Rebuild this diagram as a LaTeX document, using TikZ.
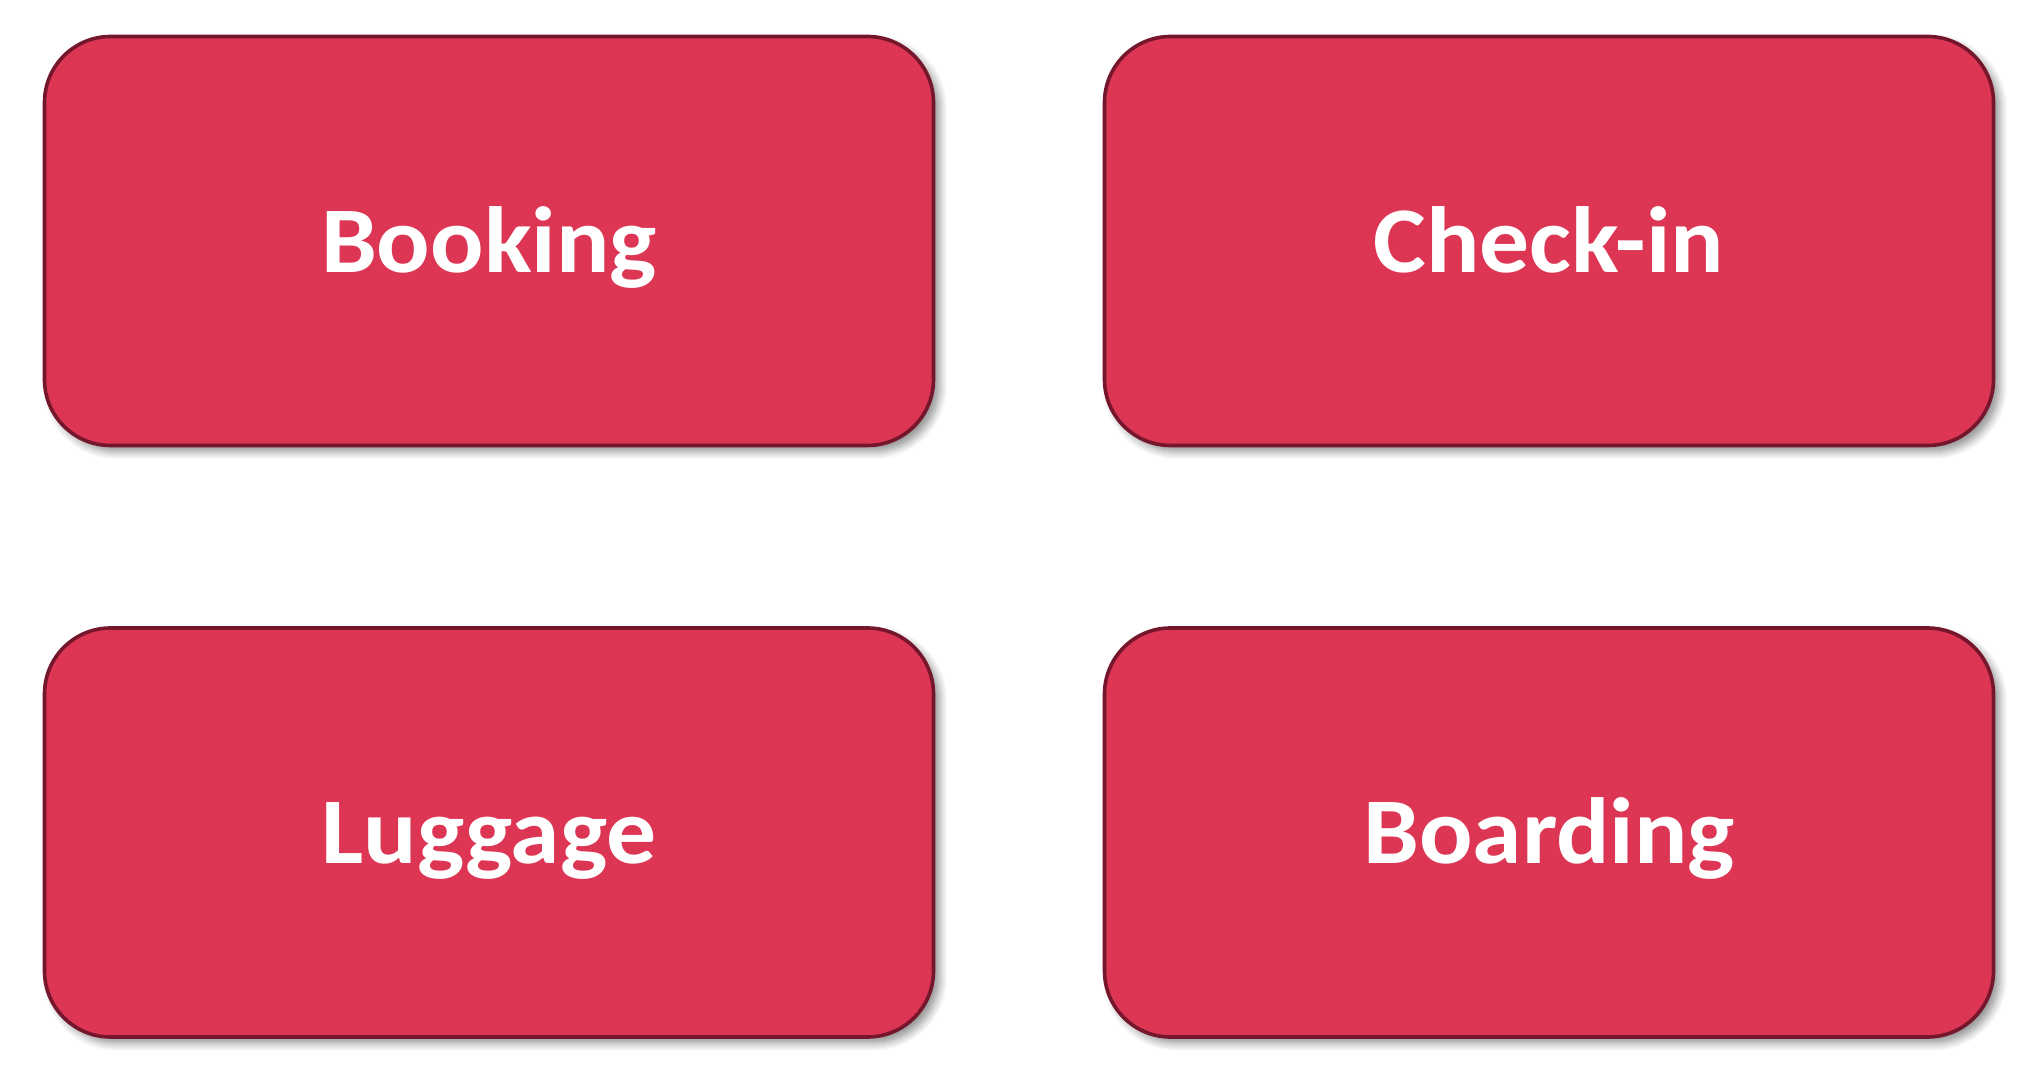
\documentclass[tikz,border=0pt]{standalone}
\usepackage{fontspec}
\setmainfont{Carlito}[FakeStretch=1.06]
\usetikzlibrary{shadows.blur}
\definecolor{boxfill}{RGB}{220,54,84}
\definecolor{boxline}{RGB}{118,22,44}
\tikzset{
  stage/.style={
    rectangle, rounded corners=33pt, draw=boxline, line width=1.8pt,
    fill=boxfill, minimum width=444.5pt, minimum height=204.5pt,
    inner sep=0pt, text=white, font=\fontsize{47}{56}\selectfont\bfseries,
    text height=31.5pt, text depth=0pt,
    blur shadow={shadow xshift=3pt, shadow yshift=-3pt, shadow blur radius=4pt, shadow blur steps=8, shadow opacity=45}
  }
}
\begin{document}
\begin{tikzpicture}[x=1pt,y=1pt]
\useasboundingbox (0,0) rectangle (1018,546);
\node[stage] (booking)  at (244.5,425.5) {Booking};
\node[stage] (checkin)  at (774.5,425.5) {Check-in};
\node[stage] (luggage)  at (244.5,129.75) {Luggage};
\node[stage] (boarding) at (774.5,129.75) {Boarding};
\end{tikzpicture}
\end{document}
